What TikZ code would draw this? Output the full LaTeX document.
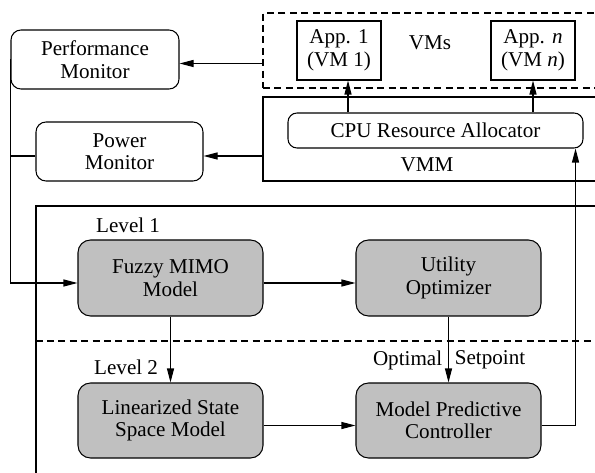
\documentclass[tikz,border=0pt]{standalone}
\usepackage{fontspec}
\setmainfont{Liberation Serif}
\usetikzlibrary{arrows.meta,positioning}
\definecolor{blockgray}{HTML}{C0C0C0}

\begin{document}
\begin{tikzpicture}[font=\fontsize{12}{12.8}\selectfont,
  >={Triangle[length=2.8mm,width=1.4mm]},
  monitor/.style={draw, line width=.6pt, rounded corners=0.2cm, align=center,
    minimum width=3.36cm, minimum height=1.18cm},
  appbox/.style={draw, line width=.6pt, align=center,
    minimum width=1.68cm, minimum height=1.18cm},
  ctrl/.style={draw, line width=.6pt, fill=blockgray, rounded corners=0.25cm,
    align=center, minimum width=3.7cm, minimum height=1.52cm},
  frame/.style={draw, line width=.6pt, inner sep=0pt},
  sepline/.style={line width=.6pt, dash pattern=on 4pt off 2.5pt},
  link/.style={->, line width=.6pt}]
  \useasboundingbox (0,0) rectangle (11.9,9.44);
  \clip (0,0) rectangle (11.9,9.44);

  % host side: VMs and VMM
  \node[frame, sepline, minimum width=7.24cm, minimum height=1.5cm] (vms) at (8.88,8.43) {};
  \node[frame, minimum width=7.24cm, minimum height=1.68cm] (vmm) at (8.88,6.66) {};
  \node[appbox] (app1) at (6.78,8.43) {App. 1\\(VM 1)};
  \node[appbox] (appn) at (10.66,8.43) {App. \textit{n}\\(VM \textit{n})};
  \node (vmslbl) at (8.60,8.58) {VMs};
  \node[draw, line width=.6pt, rounded corners=0.18cm, minimum width=5.9cm,
    minimum height=0.7cm] (cpu) at (8.71,6.83) {CPU Resource Allocator};
  \node (vmmlbl) at (8.54,6.14) {VMM};

  \node[monitor] (perf) at (1.90,8.25) {Performance\\Monitor};
  \node[monitor, minimum width=3.34cm] (power) at (2.39,6.41) {Power\\Monitor};

  % controller: two levels
  \node[frame, minimum width=11.78cm, minimum height=5.82cm] (ctl) at (6.61,2.41) {};
  \draw[sepline] (ctl.west |- 0,2.62) -- (ctl.east |- 0,2.62);
  \node[anchor=west] (lvl1) at (1.80,4.94) {Level 1};
  \node[anchor=west] (lvl2) at (1.76,2.10) {Level 2};
  \node[ctrl] (fuzzy) at (3.41,3.88) {Fuzzy MIMO\\Model};
  \node[ctrl] (util) at (8.97,3.88) {Utility\\Optimizer};
  \node[ctrl, minimum height=1.5cm] (lin) at (3.41,1.03) {Linearized State\\Space Model};
  \node[ctrl, minimum height=1.5cm] (mpc) at (8.97,1.03) {Model Predictive\\Controller};

  \draw[link] ([xshift=0.18cm]app1.south |- cpu.north) -- ([xshift=0.18cm]app1.south);
  \draw[link] (appn.south |- cpu.north) -- (appn.south);
  \draw[link] ([yshift=-0.08cm]perf.east -| vms.west) -- ([yshift=-0.08cm]perf.east);
  \draw[link] ([yshift=-0.09cm]power.east -| vmm.west) -- ([yshift=-0.09cm]power.east);
  \draw[line width=.6pt] ([yshift=-0.09cm]power.west) -- ([yshift=-0.09cm]power.west -| perf.west);
  \draw[link] (perf.west) |- ([yshift=-0.1cm]fuzzy.west);
  \draw[link] ([yshift=-0.1cm]fuzzy.east) -- ([yshift=-0.1cm]util.west);
  \draw[link] (fuzzy.south) -- (lin.north);
  \draw[link] (util.south) -- node[pos=0.66, left] {Optimal}
    node[pos=0.66, right] {Setpoint} (mpc.north);
  \draw[link] ([yshift=-0.1cm]lin.east) -- ([yshift=-0.1cm]mpc.west);
  \draw[link] ([yshift=-0.1cm]mpc.east) -| ([xshift=-0.16cm]cpu.south east);
\end{tikzpicture}
\end{document}
